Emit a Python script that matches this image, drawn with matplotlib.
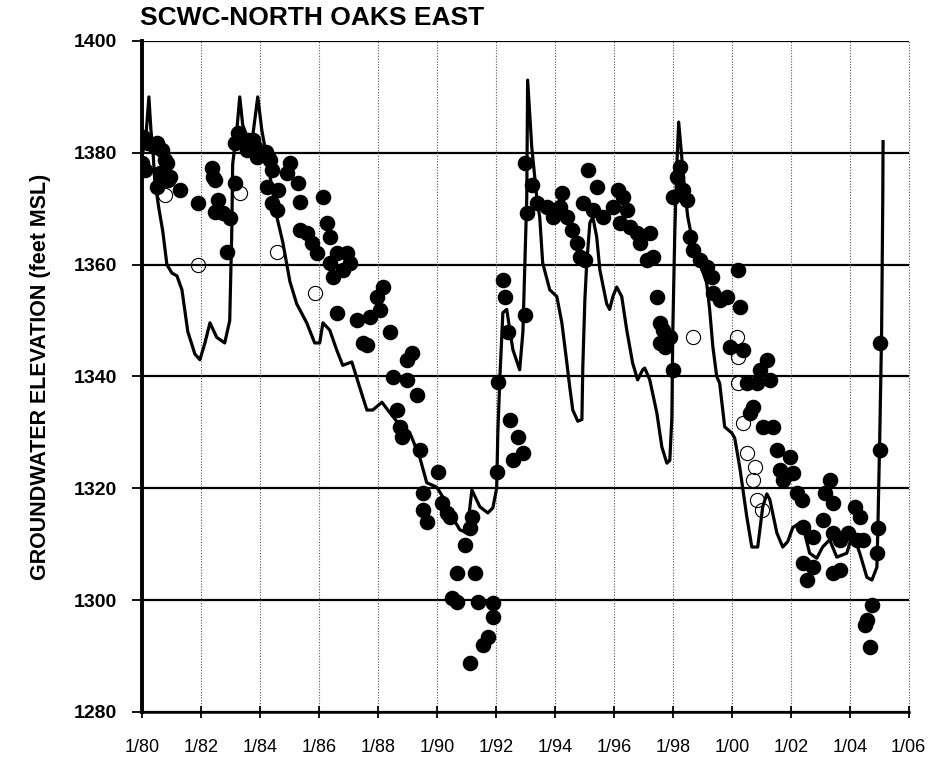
import matplotlib
matplotlib.use("Agg")
import matplotlib.pyplot as plt
import numpy as np

plt.rcParams['font.family'] = ['Liberation Sans', 'DejaVu Sans']

title = "SCWC-NORTH OAKS EAST"
ylabel = "GROUNDWATER ELEVATION (feet MSL)"
xtick_years = list(range(1980, 2007, 2))
xtick_labels = ["1/80", "1/82", "1/84", "1/86", "1/88", "1/90", "1/92", "1/94",
                "1/96", "1/98", "1/00", "1/02", "1/04", "1/06"]
ytick_values = [1280, 1300, 1320, 1340, 1360, 1380, 1400]

# simulated groundwater elevation (line)
sim_year = [1980.03, 1980.14, 1980.24, 1980.31, 1980.37, 1980.44, 1980.58, 1980.71, 1980.85,
            1981.02, 1981.19, 1981.36, 1981.56, 1981.80, 1981.97, 1982.14, 1982.31, 1982.54,
            1982.81, 1982.98, 1983.05, 1983.08, 1983.22, 1983.32, 1983.42, 1983.56, 1983.76,
            1983.93, 1984.07, 1984.24, 1984.44, 1984.58, 1984.78, 1985.02, 1985.25, 1985.59,
            1985.86, 1986.03, 1986.14, 1986.37, 1986.61, 1986.81, 1987.12, 1987.39, 1987.63,
            1987.83, 1988.14, 1988.41, 1988.64, 1989.08, 1989.42, 1989.66, 1990.00, 1990.20,
            1990.44, 1990.78, 1991.02, 1991.19, 1991.46, 1991.73, 1991.90, 1992.03, 1992.07,
            1992.14, 1992.24, 1992.37, 1992.58, 1992.81, 1992.92, 1993.05, 1993.08, 1993.22,
            1993.39, 1993.49, 1993.59, 1993.83, 1994.07, 1994.24, 1994.41, 1994.51, 1994.61,
            1994.78, 1994.92, 1994.95, 1995.02, 1995.08, 1995.19, 1995.29, 1995.42, 1995.53,
            1995.76, 1995.86, 1995.97, 1996.10, 1996.27, 1996.44, 1996.64, 1996.81, 1996.98,
            1997.05, 1997.22, 1997.46, 1997.63, 1997.80, 1997.90, 1997.97, 1998.00, 1998.07,
            1998.14, 1998.20, 1998.31, 1998.41, 1998.51, 1998.64, 1998.92, 1999.15, 1999.25,
            1999.36, 1999.49, 1999.59, 1999.76, 2000.00, 2000.10, 2000.27, 2000.51, 2000.68,
            2000.88, 2001.05, 2001.19, 2001.29, 2001.53, 2001.73, 2001.90, 2002.07, 2002.31,
            2002.47, 2002.64, 2002.88, 2003.08, 2003.32, 2003.56, 2003.90, 2004.10, 2004.34,
            2004.58, 2004.75, 2004.92, 2004.95, 2005.02, 2005.08, 2005.12, 2005.13]
sim_elev = [1380, 1383, 1390, 1384, 1381, 1375, 1370, 1366, 1360,
            1358.5, 1358, 1355.5, 1348, 1344, 1343, 1346, 1349.6, 1347,
            1346, 1350, 1366, 1378, 1384, 1390, 1385, 1383, 1383,
            1390, 1384, 1379, 1373, 1368.5, 1364, 1357, 1353, 1349.6,
            1346, 1346, 1349.6, 1348.3, 1344.7, 1342, 1342.6, 1338, 1334,
            1334, 1335.4, 1333.5, 1332, 1330, 1325.6, 1321, 1320.2, 1318.5,
            1315.6, 1312.6, 1312, 1319.7, 1316.7, 1315.6, 1316.5, 1320, 1330,
            1340, 1351.4, 1352, 1344.8, 1341.2, 1348, 1372, 1393, 1381,
            1372, 1368.5, 1360.3, 1355.5, 1354.3, 1349.6, 1342.4, 1338, 1334,
            1332, 1332.3, 1341.7, 1353.7, 1360, 1367.5, 1368.5, 1365, 1359,
            1353, 1352, 1354.3, 1356, 1354.3, 1348.3, 1342.4, 1339.4, 1341.2,
            1341.5, 1339.4, 1333.5, 1327.4, 1324.5, 1325, 1332.8, 1347.8, 1366,
            1378, 1385.5, 1379, 1373, 1368.5, 1365, 1360.3, 1356.7, 1352,
            1345.3, 1340, 1338.8, 1331, 1329.9, 1329, 1323.8, 1314.9, 1309.5,
            1309.5, 1316.7, 1319, 1318, 1312, 1309.5, 1310.5, 1313, 1313.8,
            1312, 1308.4, 1307.5, 1309.5, 1310.8, 1307.7, 1308.4, 1312, 1308.4,
            1304.1, 1303.6, 1305.9, 1312, 1329.9, 1347.8, 1372, 1382]

# measured groundwater elevation (filled circles)
obs_year = [1980.03, 1980.20, 1980.00, 1980.10, 1980.44, 1980.51, 1980.68, 1980.78, 1980.85,
            1980.61, 1980.88, 1980.95, 1980.51, 1981.29,
            1981.90, 1982.37, 1982.41, 1982.47, 1982.58, 1982.47, 1982.75, 1982.98, 1982.88, 1983.15,
            1983.15, 1983.25, 1983.32, 1983.56, 1983.59, 1983.76, 1983.83, 1983.90, 1984.07, 1984.20,
            1984.27, 1984.34, 1984.41, 1984.24, 1984.41, 1984.58, 1984.61,
            1985.02, 1984.92, 1985.29, 1985.36, 1985.36, 1985.59, 1985.76, 1985.93, 1986.14, 1986.27,
            1986.37, 1986.61, 1986.37, 1986.47, 1986.81, 1986.95, 1987.05, 1986.61, 1987.29, 1987.73,
            1987.97, 1988.17, 1987.63, 1987.49, 1988.41, 1988.07, 1988.51, 1988.98, 1989.15, 1988.98,
            1989.32, 1988.64, 1988.75, 1988.81, 1989.42, 1990.03, 1989.53, 1989.53, 1989.66, 1990.17,
            1990.34, 1990.44, 1991.19, 1991.12, 1990.95, 1990.68, 1991.29, 1990.51, 1990.68, 1991.39,
            1991.90, 1991.90, 1991.73, 1991.56, 1991.12,
            1992.07, 1992.03, 1992.47, 1992.75, 1992.92, 1992.58, 1992.24, 1992.31, 1992.41, 1992.98,
            1992.98, 1993.22, 1993.05, 1993.39, 1993.73, 1994.24, 1993.93, 1994.17, 1994.41, 1994.58,
            1994.75, 1994.85, 1995.02, 1995.12, 1995.42, 1994.95, 1995.29, 1995.63, 1996.14, 1996.31,
            1995.97, 1996.44, 1996.20, 1996.54, 1996.78, 1996.88, 1997.12, 1997.22, 1997.32, 1997.46,
            1997.56, 1997.66, 1997.90, 1997.73, 1998.00, 1997.56, 1997.80,
            1998.24, 1998.14, 1998.34, 1998.00, 1998.47, 1998.58, 1998.68, 1998.92, 1999.15, 1999.32,
            1999.36, 1999.59, 1999.83, 2000.20, 2000.27, 1999.93, 2000.37, 2001.19, 2000.95, 2001.29,
            2000.51, 2000.85, 2000.71, 2000.61, 2001.05, 2001.39, 2001.53, 2001.97, 2001.63, 2002.07,
            2001.73, 2002.20, 2002.37, 2003.32, 2003.15, 2003.42, 2004.17, 2004.34, 2003.08, 2002.41,
            2002.75, 2003.42, 2003.66, 2003.93, 2004.24, 2004.44, 2004.95, 2004.92, 2002.41, 2002.75,
            2002.54, 2003.66, 2003.42, 2004.75, 2004.58, 2004.51, 2004.68, 2005.02, 2005.02]
obs_elev = [1382.8, 1381.8, 1378.2, 1376.9, 1381.0, 1381.8, 1380.5, 1378.7, 1378.2,
            1376.4, 1375.1, 1375.7, 1373.9, 1373.4,
            1371.0, 1377.3, 1375.7, 1375.1, 1371.6, 1369.4, 1369.2, 1368.3, 1362.3, 1374.6,
            1381.8, 1383.5, 1382.3, 1380.5, 1382.3, 1382.3, 1381.0, 1379.3, 1380.0, 1380.2,
            1379.3, 1378.7, 1376.9, 1373.9, 1371.0, 1369.8, 1373.4,
            1378.2, 1376.4, 1374.6, 1371.2, 1366.2, 1365.7, 1363.9, 1362.1, 1372.1, 1367.5,
            1365.0, 1362.1, 1360.3, 1357.8, 1359.0, 1362.1, 1360.3, 1351.4, 1350.1, 1350.6,
            1354.2, 1356.0, 1345.6, 1346.0, 1348.0, 1351.9, 1339.9, 1343.0, 1344.2, 1339.4,
            1336.7, 1334.0, 1331.0, 1329.2, 1326.9, 1322.9, 1319.2, 1316.1, 1314.0, 1317.4,
            1315.6, 1314.9, 1314.9, 1312.9, 1309.9, 1304.9, 1304.9, 1300.4, 1299.7, 1299.7,
            1299.5, 1297.0, 1293.4, 1292.0, 1288.8,
            1339.0, 1322.9, 1332.2, 1329.2, 1326.3, 1325.1, 1357.3, 1354.2, 1348.0, 1351.0,
            1378.2, 1374.2, 1369.2, 1371.0, 1370.3, 1372.8, 1368.5, 1370.3, 1368.5, 1366.2,
            1363.9, 1361.4, 1360.8, 1376.9, 1373.9, 1371.0, 1369.8, 1368.5, 1373.4, 1372.1,
            1370.3, 1369.8, 1367.5, 1366.7, 1365.7, 1363.9, 1360.8, 1365.7, 1361.4, 1354.2,
            1349.6, 1348.3, 1347.1, 1345.3, 1341.2, 1346.0, 1347.1,
            1377.5, 1375.7, 1373.4, 1372.1, 1371.6, 1365.0, 1362.6, 1360.8, 1359.6, 1357.8,
            1354.9, 1353.7, 1354.2, 1359.0, 1352.4, 1345.3, 1344.7, 1343.0, 1341.2, 1339.4,
            1338.8, 1338.8, 1334.5, 1333.5, 1331.0, 1331.0, 1326.9, 1325.6, 1323.3, 1322.7,
            1321.5, 1319.2, 1317.9, 1321.5, 1319.2, 1317.4, 1316.7, 1314.9, 1314.3, 1313.1,
            1311.3, 1312.0, 1310.8, 1312.0, 1310.8, 1310.8, 1312.9, 1308.4, 1306.7, 1305.9,
            1303.6, 1305.4, 1304.9, 1299.1, 1296.5, 1295.6, 1291.6, 1346.0, 1326.9]

# questionable measurements (open circles)
open_year = [1980.78, 1981.90, 1983.32, 1984.58, 1985.86, 1998.68, 2000.17, 2000.20, 2000.20,
             2000.37, 2000.51, 2000.78, 2000.71, 2000.85, 2001.02]
open_elev = [1372.5, 1359.9, 1372.8, 1362.3, 1354.9, 1347.1, 1347.1, 1343.5, 1338.8,
             1331.7, 1326.3, 1323.8, 1321.5, 1317.9, 1316.1]

fig = plt.figure(figsize=(9.33, 7.66), dpi=100)
ax = fig.add_axes([0.152, 0.0705, 0.822, 0.876])

ax.set_xlim(1980, 2006)
ax.set_ylim(1280, 1400)

# grid
for yv in ytick_values:
    ax.axhline(yv, color='black', lw=1.6, zorder=1)
for xv in xtick_years[1:]:
    ax.axvline(xv, color='#555555', lw=0.8, ls=(0, (1, 1.5)), zorder=1, clip_on=False)

ax.plot(sim_year, sim_elev, color='black', lw=2.3, zorder=3, solid_joinstyle='round')
ax.plot(open_year, open_elev, ls='none', marker='o', ms=10.2, mfc='none',
        mec='black', mew=0.8, zorder=4)
ax.plot(obs_year, obs_elev, ls='none', marker='o', ms=10.2, mfc='black',
        mec='black', zorder=5)

ax.set_xticks(xtick_years)
ax.set_xticklabels(xtick_labels, fontsize=13)
ax.set_yticks(ytick_values)
ax.set_yticklabels([str(v) for v in ytick_values], fontsize=14, fontweight='bold')
ax.tick_params(axis='x', direction='inout', length=9, width=1.3, pad=15)
ax.tick_params(axis='y', direction='out', length=7, width=1.3, pad=11)

for s in ['top', 'right']:
    ax.spines[s].set_visible(False)
ax.spines['left'].set_linewidth(2.8)
ax.spines['bottom'].set_linewidth(1.8)

ax.set_ylabel(ylabel, fontsize=15.5, fontweight='bold', labelpad=16)
fig.text(0.150, 0.977, title, fontsize=19, fontweight='bold', ha='left', va='center')

fig.savefig("out.png", dpi=100)
